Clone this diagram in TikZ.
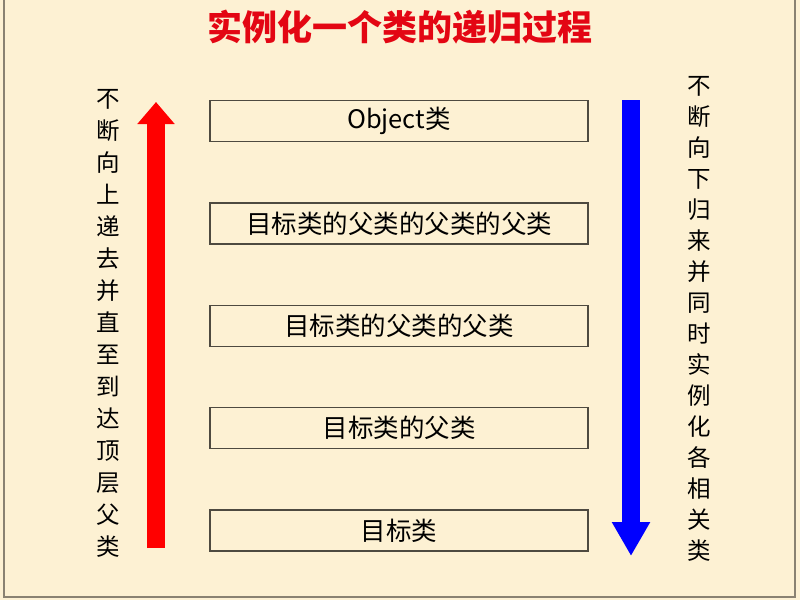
\documentclass[tikz,border=0pt]{standalone}
\usepackage{fontspec}
\setmainfont{Noto Sans CJK SC}
\usepackage{tikz}
\usetikzlibrary{positioning,arrows.meta}
\definecolor{PaperCream}{HTML}{FDF1D3}
\definecolor{FrameGray}{HTML}{8A8272}
\definecolor{BoxEdge}{HTML}{4E4A40}
\definecolor{TitleRed}{HTML}{E30613}

\begin{document}
\begin{tikzpicture}[x=1pt,y=-1pt,
    classbox/.style={draw=BoxEdge, line width=1.4pt, fill=PaperCream,
      minimum width=378pt, minimum height=41pt, inner sep=0pt,
      font=\fontsize{25.5}{28}\selectfont},
    sidetext/.style={align=center, inner sep=0pt,
      font=\fontsize{23.5}{32}\selectfont}]
        \fill[PaperCream] (0,0) rectangle (800,600);
        \useasboundingbox (0,0) rectangle (800,600);
        \draw[FrameGray, line width=1.2pt] (4,-5) rectangle (795,597);
        \node[text=TitleRed, font=\fontsize{35}{38}\selectfont\bfseries] (title) at (400,27) {实例化一个类的递归过程};
        % the five classes, top to bottom
        \node[classbox] (obj) at (399,121) {Object类};
        \node[classbox, below=60pt of obj] (gggp) {目标类的父类的父类的父类};
        \node[classbox, below=60pt of gggp] (ggp) {目标类的父类的父类};
        \node[classbox, below=60pt of ggp] (gp) {目标类的父类};
        \node[classbox, below=60pt of gp] (target) {目标类};
        % up and down arrows
        \coordinate (upstart) at (156,548);
        \coordinate (uptip) at (156,102);
        \coordinate (downstart) at (631,100);
        \coordinate (downtip) at (631,556);
        \draw[red, line width=18pt, -{Triangle[width=36pt,length=22pt]}] (upstart) -- (uptip);
        \draw[blue, line width=18pt, -{Triangle[width=36pt,length=34pt]}] (downstart) -- (downtip);
        \node[sidetext, anchor=north] (lefttext) at (108,89) {不\\断\\向\\上\\递\\去\\并\\直\\至\\到\\达\\顶\\层\\父\\类};
        \node[sidetext, anchor=north, font=\fontsize{23.5}{31}\selectfont] (righttext) at (699,76) {不\\断\\向\\下\\归\\来\\并\\同\\时\\实\\例\\化\\各\\相\\关\\类};
    \end{tikzpicture}
\end{document}
